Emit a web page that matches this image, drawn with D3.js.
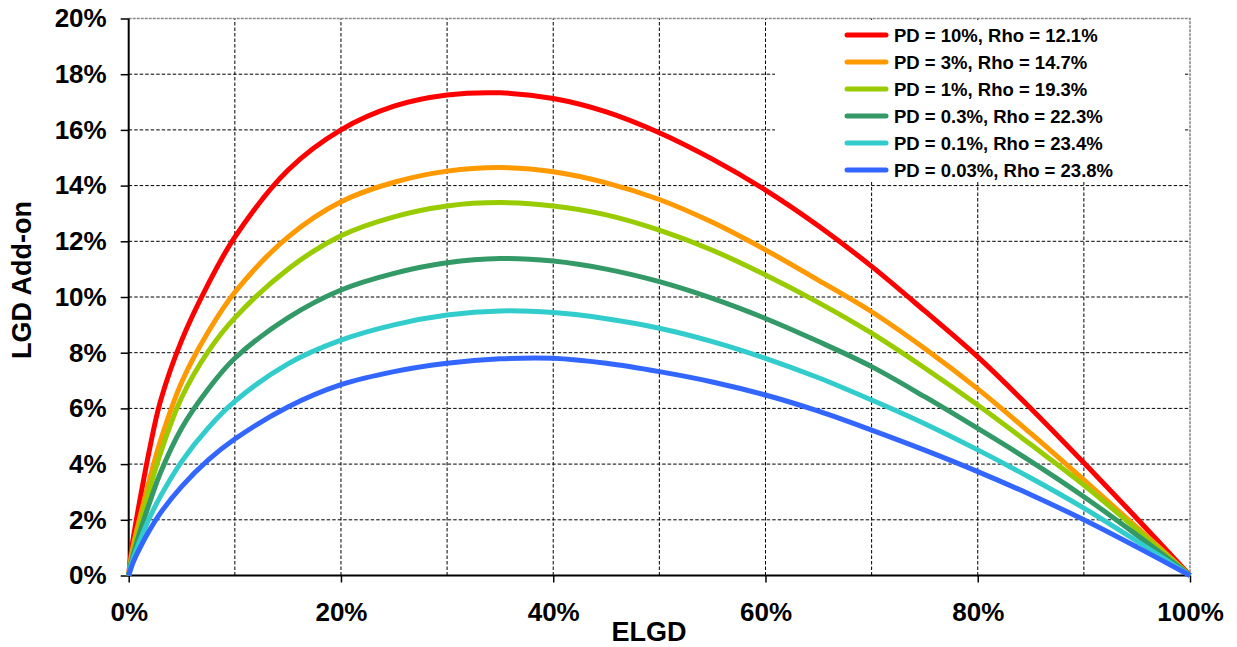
<!DOCTYPE html>
<html>
<head>
<meta charset="utf-8">
<script src="https://cdn.jsdelivr.net/npm/d3@7"></script>
<style>
  html, body { margin: 0; padding: 0; background: #fff; }
  svg { display: block; }
  text { font-family: "Liberation Sans", Arial, sans-serif; font-weight: bold; fill: #000; }
</style>
</head>
<body>
<script>
// ---- data (percent units) ----
const elgd  = [0, 0.25, 0.5, 1, 2, 3, 5, 7.5, 10, 15, 20, 25, 30, 35, 40, 45, 50, 55, 60, 65, 70, 75, 80, 85, 90, 95, 100];
const pd10  = [0, 0.9, 1.5, 2.6, 4.6, 6.27, 8.45, 10.47, 12.15, 14.55, 16.0, 16.85, 17.25, 17.33, 17.13, 16.65, 15.9, 14.95, 13.84, 12.55, 11.1, 9.5, 7.85, 6.0, 4.05, 2.05, 0];
const pd3   = [0, 0.7, 1.2, 2.0, 3.5, 4.85, 6.95, 8.75, 10.17, 12.15, 13.42, 14.12, 14.52, 14.65, 14.5, 14.1, 13.5, 12.68, 11.69, 10.6, 9.47, 8.15, 6.7, 5.1, 3.43, 1.73, 0];
const pd1   = [0, 0.58, 1.0, 1.75, 3.15, 4.4, 6.4, 8.05, 9.25, 11.0, 12.2, 12.88, 13.27, 13.39, 13.27, 12.95, 12.4, 11.68, 10.79, 9.8, 8.7, 7.45, 6.12, 4.7, 3.25, 1.65, 0];
const pd03  = [0, 0.5, 0.85, 1.5, 2.65, 3.7, 5.3, 6.7, 7.8, 9.25, 10.25, 10.85, 11.23, 11.38, 11.29, 11.0, 10.55, 9.95, 9.23, 8.4, 7.5, 6.42, 5.28, 4.1, 2.83, 1.45, 0];
const pd01  = [0, 0.4, 0.7, 1.2, 2.1, 2.85, 4.1, 5.3, 6.25, 7.6, 8.45, 9.0, 9.35, 9.5, 9.44, 9.22, 8.88, 8.4, 7.8, 7.1, 6.3, 5.45, 4.51, 3.5, 2.42, 1.23, 0];
const pd003 = [0, 0.3, 0.55, 0.95, 1.65, 2.25, 3.2, 4.15, 4.9, 6.05, 6.85, 7.32, 7.62, 7.78, 7.8, 7.62, 7.32, 6.95, 6.48, 5.9, 5.22, 4.5, 3.73, 2.9, 2.0, 1.02, 0];
const seriesNames = ["PD = 10%, Rho = 12.1%", "PD = 3%, Rho = 14.7%", "PD = 1%, Rho = 19.3%",
                     "PD = 0.3%, Rho = 22.3%", "PD = 0.1%, Rho = 23.4%", "PD = 0.03%, Rho = 23.8%"];
const seriesValues = [pd10, pd3, pd1, pd03, pd01, pd003];
const seriesColors = ["#FF0000", "#FF9900", "#99CC00", "#339966", "#33CCCC", "#3366FF"];
const xTicks = [0, 20, 40, 60, 80, 100];
const xGrid = [10, 20, 30, 40, 50, 60, 70, 80, 90];
const yTicks = [0, 2, 4, 6, 8, 10, 12, 14, 16, 18, 20];
const xTitle = "ELGD";
const yTitle = "LGD Add-on";

// ---- layout ----
const W = 1237, H = 647;
const svg = d3.select("body").append("svg").attr("width", W).attr("height", H);
const x = d3.scaleLinear().domain([0, 100]).range([128.7, 1190]);
const y = d3.scaleLinear().domain([0, 20]).range([575.5, 18.5]);

// grid
const grid = svg.append("g").attr("stroke", "#000").attr("stroke-width", 1).attr("stroke-dasharray", "3.5,2");
grid.selectAll("line.h").data(yTicks.filter(d => d > 0 && d < 20)).join("line")
  .attr("x1", x(0)).attr("x2", x(100)).attr("y1", d => y(d)).attr("y2", d => y(d));
grid.selectAll("line.v").data(xGrid).join("line")
  .attr("x1", d => x(d)).attr("x2", d => x(d)).attr("y1", y(0)).attr("y2", y(20));

// top / right border (gray dotted)
svg.append("path")
  .attr("d", `M${x(0)},${y(20)}H${x(100)}V${y(0)}`)
  .attr("fill", "none").attr("stroke", "#8a8a8a").attr("stroke-width", 1.6).attr("stroke-dasharray", "3,1");

// legend background (covers grid)
const legendBox = { x0: 775, y0: 22, x1: 1185, y1: 182 };
svg.append("rect").attr("x", legendBox.x0).attr("y", legendBox.y0)
  .attr("width", legendBox.x1 - legendBox.x0).attr("height", legendBox.y1 - legendBox.y0).attr("fill", "#fff");

// axes
const yAxis = d3.axisLeft(y).tickValues(yTicks).tickSize(8).tickPadding(14).tickFormat(d => d + "%");
const gy = svg.append("g").attr("transform", `translate(${x(0)},0)`).call(yAxis);
gy.selectAll(".tick line").attr("stroke", "#000").attr("stroke-width", 1.5);
gy.selectAll(".tick text").style("font-size", "26px").attr("font-family", null).attr("fill", "#000");
gy.select(".domain").attr("stroke", "#000").attr("stroke-width", 2).attr("d", `M0,${y(20)}V${y(0)}`);

const xAxis = d3.axisBottom(x).tickValues(xTicks).tickSize(7).tickPadding(20).tickFormat(d => d + "%");
const gx = svg.append("g").attr("transform", `translate(0,${y(0)})`).call(xAxis);
gx.selectAll(".tick line").attr("stroke", "#000").attr("stroke-width", 1.5);
gx.selectAll(".tick text").style("font-size", "26px").attr("font-family", null).attr("fill", "#000");
gx.select(".domain").attr("stroke", "#000").attr("stroke-width", 2).attr("d", `M${x(0)},0H${x(100)}`);

// lines
const line = d3.line().x(d => x(d[0])).y(d => y(d[1])).curve(d3.curveCatmullRom.alpha(0.5));
const plot = svg.append("g");
seriesValues.forEach((vals, i) => {
  plot.append("path")
    .datum(elgd.map((e, k) => [e, vals[k]]))
    .attr("d", line).attr("fill", "none")
    .attr("stroke", seriesColors[i]).attr("stroke-width", 5)
    .attr("stroke-linejoin", "round");
});

// legend entries
const leg = svg.append("g");
seriesNames.forEach((name, i) => {
  const cy = 35 + i * 27;
  leg.append("line").attr("x1", 847).attr("x2", 886).attr("y1", cy).attr("y2", cy)
    .attr("stroke", seriesColors[i]).attr("stroke-width", 5).attr("stroke-linecap", "round");
  leg.append("text").attr("x", 894).attr("y", cy + 6.5).style("font-size", "18.5px").text(name);
});

// titles
svg.append("text").attr("x", 649).attr("y", 641).attr("text-anchor", "middle")
  .style("font-size", "27px").text(xTitle);
svg.append("text").attr("transform", `translate(31,280) rotate(-90)`).attr("text-anchor", "middle")
  .style("font-size", "27px").text(yTitle);
</script>
</body>
</html>
